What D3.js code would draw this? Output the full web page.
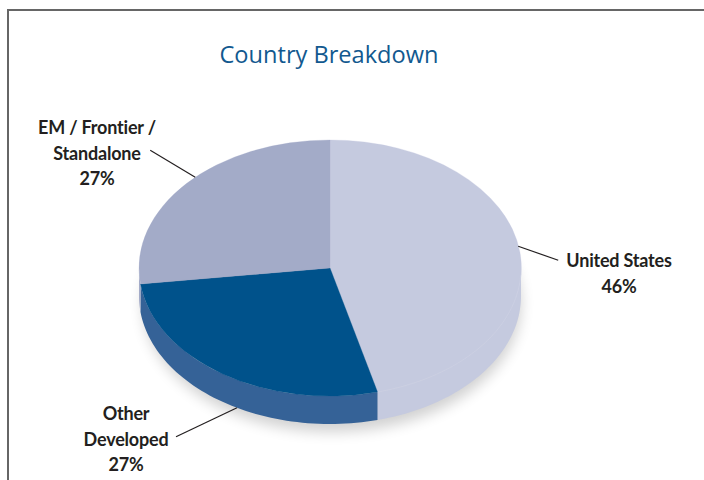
<!DOCTYPE html>
<html>
<head>
<meta charset="utf-8">
<script src="https://cdn.jsdelivr.net/npm/d3@7/dist/d3.min.js"></script>
<style>
html, body { margin: 0; padding: 0; background: #fff; overflow: hidden; }
svg { display: block; }
</style>
</head>
<body>
<div id="chart"></div>
<script>
// values, clockwise from 12 o'clock
var categories = ["United States", "Other Developed", "EM / Frontier / Standalone"]
var shares = [46, 27, 27]
var topColors = ["#c5cadf", "#00528b", "#a3abc8"]
var sideColors = ["#c5cadf", "#356297", "#a3abc8"]
var labelLines = [["United States", "46%"], ["Other", "Developed", "27%"], ["EM / Frontier /", "Standalone", "27%"]]

var width = 704, height = 480
var cx = 330, cy = 268, rx = 191, ry = 128, depth = 28

var svg = d3.select("#chart").append("svg").attr("width", width).attr("height", height)

// frame runs off the right and bottom of the crop
svg.append("path").attr("d", "M8,480V10H704").attr("fill", "none").attr("stroke", "#666").attr("stroke-width", 2)

svg.append("text").attr("x", 329).attr("y", 63).attr("text-anchor", "middle")
    .attr("font-family", "'Open Sans'").attr("font-size", 23.6).attr("fill", "#12598f")
    .text("Country Breakdown")

var defs = svg.append("defs")
defs.append("filter").attr("id", "blur").attr("x", "-20%").attr("y", "-20%").attr("width", "140%").attr("height", "140%")
    .append("feGaussianBlur").attr("stdDeviation", 7)

var pie = d3.pie().value(function (d) { return d.value }).sort(null)
var pieData = pie(categories.map(function (c, i) { return { key: c, value: shares[i], index: i } }))
var arc = d3.arc().innerRadius(0).outerRadius(1)

// point on the tilted ellipse, angle clockwise from top
function ellipsePoint(a, dy) {
    return [cx + rx * Math.sin(a), cy + (dy || 0) - ry * Math.cos(a)]
}

// soft shadow under the front edge
svg.append("ellipse").attr("cx", cx + 2).attr("cy", cy + depth + 8).attr("rx", rx - 2).attr("ry", ry)
    .attr("fill", "#000").attr("opacity", 0.18).attr("filter", "url(#blur)")

// side wall: only the part of each slice facing the viewer
pieData.forEach(function (d) {
    var a0 = Math.max(d.startAngle, Math.PI / 2), a1 = Math.min(d.endAngle, Math.PI * 1.5)
    if (a1 <= a0) return
    var steps = d3.range(0, 61).map(function (i) { return a0 + (a1 - a0) * i / 60 })
    var outline = steps.map(function (a) { return ellipsePoint(a, 0) })
        .concat(steps.slice().reverse().map(function (a) { return ellipsePoint(a, depth) }))
    svg.append("path").attr("d", d3.line()(outline) + "Z").attr("fill", sideColors[d.data.index])
})

var topFace = svg.append("g").attr("transform", "translate(" + cx + "," + cy + ") scale(" + rx + "," + ry + ")")
topFace.selectAll("path").data(pieData).enter().append("path")
    .attr("d", arc)
    .attr("fill", function (d) { return topColors[d.data.index] })
    .attr("stroke", function (d) { return topColors[d.data.index] })
    .attr("stroke-width", 0.3).attr("vector-effect", "non-scaling-stroke")

// faint rim where the pale slice meets its own wall
var rim = d3.range(0, 61).map(function (i) {
    var a0 = Math.PI / 2 + 0.05, a1 = pieData[0].endAngle
    return ellipsePoint(a0 + (a1 - a0) * i / 60, 0)
})
svg.append("path").attr("d", d3.line()(rim)).attr("fill", "none").attr("stroke", "#cdd1e4").attr("stroke-width", 0.7)

// leaders start on the pie edge and end next to the label
var leaders = [
    { angle: 1.40, wall: 0, dx: 40, dy: 14 },
    { angle: 3.65, wall: depth, dx: -61, dy: 29 },
    { angle: 5.50, wall: 0, dx: -45, dy: -27 }
]
leaders.forEach(function (l) {
    var p = ellipsePoint(l.angle, l.wall)
    svg.append("line").attr("x1", p[0]).attr("y1", p[1]).attr("x2", p[0] + l.dx).attr("y2", p[1] + l.dy)
        .attr("stroke", "#231f20").attr("stroke-width", 1.2)
})

var labelX = [619, 126, 97], labelY = [267, 420, 134]
labelLines.forEach(function (lines, i) {
    var t = svg.append("text").attr("text-anchor", "middle")
        .attr("font-family", "Lato").attr("font-weight", 700).attr("font-size", 18).attr("fill", "#231f20")
        .attr("letter-spacing", -0.2)
        .style("font-variant-ligatures", "none")
    lines.forEach(function (s, j) {
        t.append("tspan").attr("x", labelX[i]).attr("y", labelY[i] + j * 25.5).text(s)
    })
})
</script>
</body>
</html>
